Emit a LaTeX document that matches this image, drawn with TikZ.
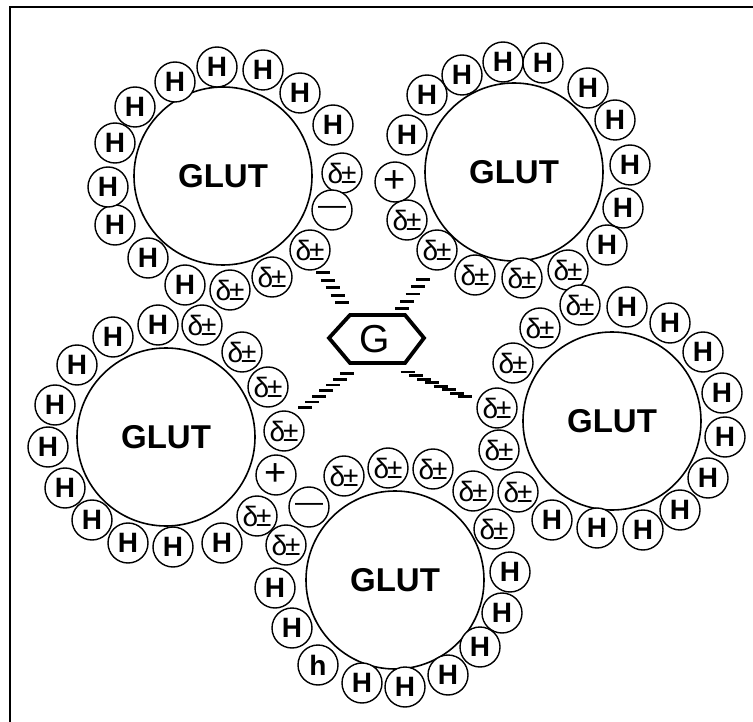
\documentclass[tikz,border=0pt]{standalone}
\usepackage{fontspec}
\setmainfont{Liberation Sans}
\usetikzlibrary{decorations.markings}
\begin{document}
\begin{tikzpicture}[x=1pt,y=-1pt,
  glut/.style={circle,draw,line width=1.6pt,minimum size=178pt,inner sep=0pt,font=\fontsize{33}{33}\selectfont\bfseries},
  sm/.style={circle,draw,line width=1.4pt,fill=white,minimum size=40pt,inner sep=0pt},
  hh/.style={sm,font=\fontsize{28}{28}\selectfont\bfseries},
  dd/.style={sm,font=\fontsize{28}{28}\selectfont},
  pp/.style={sm,font=\fontsize{38}{38}\selectfont},
  mm/.style={sm,font=\fontsize{28}{28}\selectfont},
  hexa/.style={line width=3.8pt,line join=miter},
  bond/.style={decorate,decoration={markings,
     mark=between positions 0.04 and 1 step 9pt with {\pgftransformresetnontranslations
       \draw[line width=2.8pt] (-7pt,0) -- (7pt,0);}}}
]
\useasboundingbox (0,0) rectangle (753,722);
\fill[white] (0,0) rectangle (753,722);
% frame
\draw[line width=1.5pt] (10,722) -- (10,7) -- (753,7);

% big circles
\node[glut] (g1) at (223,176) {GLUT};
\node[glut] (g2) at (514,172) {GLUT};
\node[glut] (g3) at (166,437) {GLUT};
\node[glut] (g4) at (612,421) {GLUT};
\node[glut] (g5) at (395,580) {GLUT};

% top-left ring
\foreach \n/\x/\y in {a1/175/82,a2/217/67,a3/263/70,a4/300/93,a5/333/125,
  a6/185/285,a7/148/258,a8/115/225,a9/115/143,a10/108/187,a11/135/107}
  \node[hh] (\n) at (\x,\y) {H};
\foreach \n/\x/\y in {ad1/342/173,ad2/310/250,ad3/272/277,ad4/230/290}
  \node[dd] (\n) at (\x,\y) {δ\kern-2pt±};
\node[mm] (am) at (332,210) {—};

% top-right ring
\foreach \n/\x/\y in {b1/462/75,b2/503/62,b3/543/63,b4/588/88,b5/615/120,
  b6/630/165,b7/623/208,b8/607/245,b9/407/135,b10/427/95}
  \node[hh] (\n) at (\x,\y) {H};
\foreach \n/\x/\y in {bd1/568/270,bd2/522/278,bd3/475/275,bd4/437/250,bd5/407/220}
  \node[dd] (\n) at (\x,\y) {δ\kern-2pt±};
\node[pp] (bp) at (395,182) {+};

% right ring
\foreach \n/\x/\y in {c1/627/307,c2/670/323,c3/703/352,c4/722/393,c5/725/437,
  c6/708/478,c7/680/510,c8/643/530,c9/597/528,c10/552/520}
  \node[hh] (\n) at (\x,\y) {H};
\foreach \n/\x/\y in {cd1/580/305,cd2/518/492,cd3/499/450,cd4/497/408,cd5/513/363,cd6/540/328}
  \node[dd] (\n) at (\x,\y) {δ\kern-2pt±};

% left ring
\foreach \n/\x/\y in {d1/158/325,d2/222/543,d3/173/547,d4/128/543,d5/92/520,
  d6/65/488,d7/48/447,d8/55/405,d9/77/365,d10/113/337}
  \node[hh] (\n) at (\x,\y) {H};
\foreach \n/\x/\y in {dd1/202/325,dd2/242/352,dd3/268/387,dd4/284/431,dd5/257/516,dd6/286/545}
  \node[dd] (\n) at (\x,\y) {δ\kern-2pt±};
\node[pp] (dp) at (276,475) {+};

% bottom ring
\foreach \n/\x/\y in {e1/510/572,e2/502/613,e3/480/647,e4/448/675,e5/405/687,
  e6/362/683,e8/292/628,e9/275/588}
  \node[hh] (\n) at (\x,\y) {H};
\node[hh] (e7) at (318,665) {h};
\foreach \n/\x/\y in {ed1/344/476,ed2/388/468,ed3/433/469,ed4/473/491,ed5/494/529}
  \node[dd] (\n) at (\x,\y) {δ\kern-2pt±};
\node[mm] (em) at (309,507) {—};

% glucose hexagon
\draw[hexa] (329,338) -- (350,315) -- (405,315) -- (424,338) -- (405,363) -- (350,363) -- cycle;
\node[font=\fontsize{39}{39}\selectfont] (G) at (375,339) {G};

% hatched bonds
\coordinate (h1) at (347,310); \coordinate (h2) at (402,309);
\coordinate (h3) at (349,372); \coordinate (h4) at (405,371);
\coordinate (t1) at (322,271); \coordinate (t2) at (424,278);
\coordinate (t3) at (300,412); \coordinate (t4) at (468,398);
\path[bond] (t1) -- (h1);
\path[bond] (t2) -- (h2);
\path[bond] (h3) -- (t3);
\path[bond] (h4) -- (t4);
\end{tikzpicture}
\end{document}
